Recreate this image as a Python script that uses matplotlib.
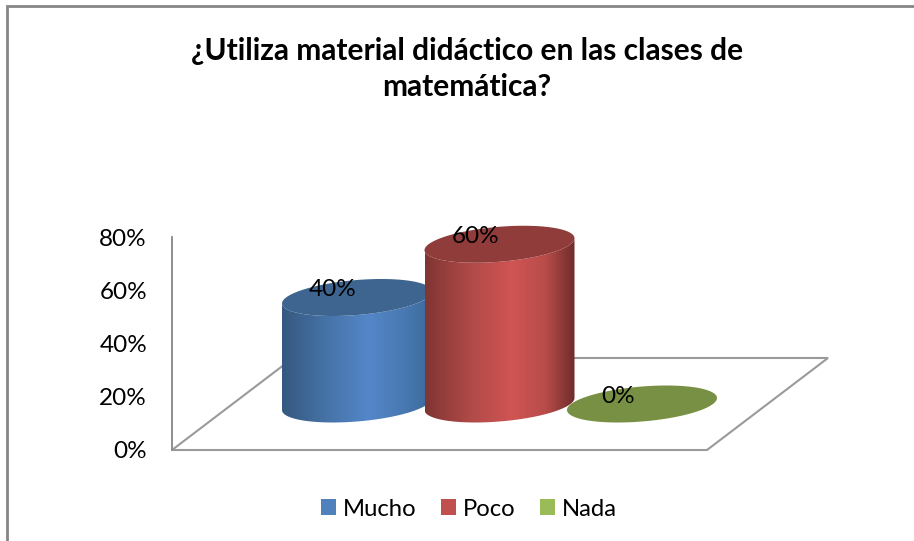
# -*- coding: utf-8 -*-
import numpy as np
import matplotlib
matplotlib.use("Agg")
import matplotlib.pyplot as plt
from matplotlib.colors import LinearSegmentedColormap
from matplotlib.patches import Patch, Polygon, Rectangle

# Datos
titulo = "¿Utiliza material didáctico en las clases de\nmatemática?"
categorias = ["Mucho", "Poco", "Nada"]
valores = [40, 60, 0]
ticks = [0, 20, 40, 60, 80]

# Colores
leyenda_col = ["#4f81bd", "#c0504d", "#9bbb59"]
tapa_col = ["#3e658f", "#8f3c3a", "#779043"]
degradado = [["#36587f", "#4673a8", "#5486c9", "#4a7ab3", "#3d6a9c"],
             ["#7f3533", "#b04a48", "#cf5553", "#b84c4a", "#6c2b2a"],
             ["#779043"] * 5]
orden = [3, 5, 4]

plt.rcParams['font.family'] = ['Lato', 'DejaVu Sans']
W, H = 914, 541
fig = plt.figure(figsize=(W / 100., H / 100.), dpi=100)

# Marco: solo se ven los bordes izquierdo y superior
fig.add_artist(Rectangle((7.5 / W, -0.1), 1.2, 1.1 - 6. / H,
                         transform=fig.transFigure, fill=False,
                         edgecolor="#868686", linewidth=2))

# Ejes: 0% en y=450, 80% en y=237; categorias separadas 142.5 px
x0, x1, y0, y1 = 172., 828., 450., 237.
paso = 142.5
cx0 = 357.
ax = fig.add_axes([x0 / W, 1 - y0 / H, (x1 - x0) / W, (y0 - y1) / H])
ax.set_xlim((x0 - cx0) / paso, (x1 - cx0) / paso)
ax.set_ylim(0, 80)
px_y = 80. / (y0 - y1)

ax.patch.set_visible(False)
for s in ["top", "right", "bottom"]:
    ax.spines[s].set_visible(False)
ax.spines["left"].set_color("#868686")
ax.spines["left"].set_linewidth(1.3)
ax.set_xticks([])
ax.set_yticks(ticks)
ax.set_yticklabels(["%d%%" % t for t in ticks], fontsize=17.5, color="black")
ax.tick_params(axis="y", length=0, pad=18)

# Piso
ax.add_patch(Polygon([(0, 0), (535. / 656, 0), (1, 92. / 213), (121. / 656, 92. / 213)],
                     closed=True, fill=False, edgecolor="#9a9a9a", linewidth=1.5,
                     transform=ax.transAxes, zorder=1, clip_on=False))

# Cilindros
base = 46. * px_y
A, B, inc = 75., 17.5, 0.08
t = np.linspace(0, 2 * np.pi, 200)


def elipse(i, nivel, tt):
    dx = A * np.cos(tt)
    dy = B * np.sin(tt) + inc * dx
    return np.column_stack([i + dx / paso, nivel + dy * px_y])


for i, v in enumerate(valores):
    arriba = base + v
    if v > 0:
        # cuerpo: mitad inferior de la base + mitad inferior de la tapa (invertida)
        tt = np.linspace(np.pi, 2 * np.pi, 100)
        contorno = np.vstack([elipse(i, base, tt), elipse(i, arriba, tt[::-1])])
        cuerpo = Polygon(contorno, closed=True, transform=ax.transData,
                         facecolor="none", edgecolor="none")
        ax.add_patch(cuerpo)
        cmap = LinearSegmentedColormap.from_list("c%d" % i, list(zip([0, .3, .58, .8, 1], degradado[i])))
        im = ax.imshow(np.linspace(0, 1, 256)[None, :], cmap=cmap, aspect="auto",
                       extent=(i - A / paso, i + A / paso, 0, 80), zorder=orden[i])
        im.set_clip_path(cuerpo)
    ax.add_patch(Polygon(elipse(i, arriba, t), closed=True, facecolor=tapa_col[i],
                         edgecolor="none", zorder=orden[i] + 0.5, clip_on=False))
    ax.text(i - 24. / paso, arriba + 7.5 * px_y, "%d%%" % v, fontsize=17.5, color="black",
            ha="center", va="center", zorder=10)

ax.set_xlim((x0 - cx0) / paso, (x1 - cx0) / paso)
ax.set_ylim(0, 80)

fig.text(467. / W, 1 - 69. / H, titulo, fontsize=21.5, fontweight="bold",
         ha="center", va="center", linespacing=1.32)

handles = [Patch(facecolor=c, edgecolor="none", label=n) for c, n in zip(leyenda_col, categorias)]
fig.legend(handles=handles, loc="center", bbox_to_anchor=(469. / W, 1 - 509. / H), ncol=3,
           frameon=False, fontsize=17.2, handlelength=0.64, handleheight=0.64,
           handletextpad=0.3, columnspacing=1.0, borderpad=0)

fig.savefig("out.png", dpi=100)
